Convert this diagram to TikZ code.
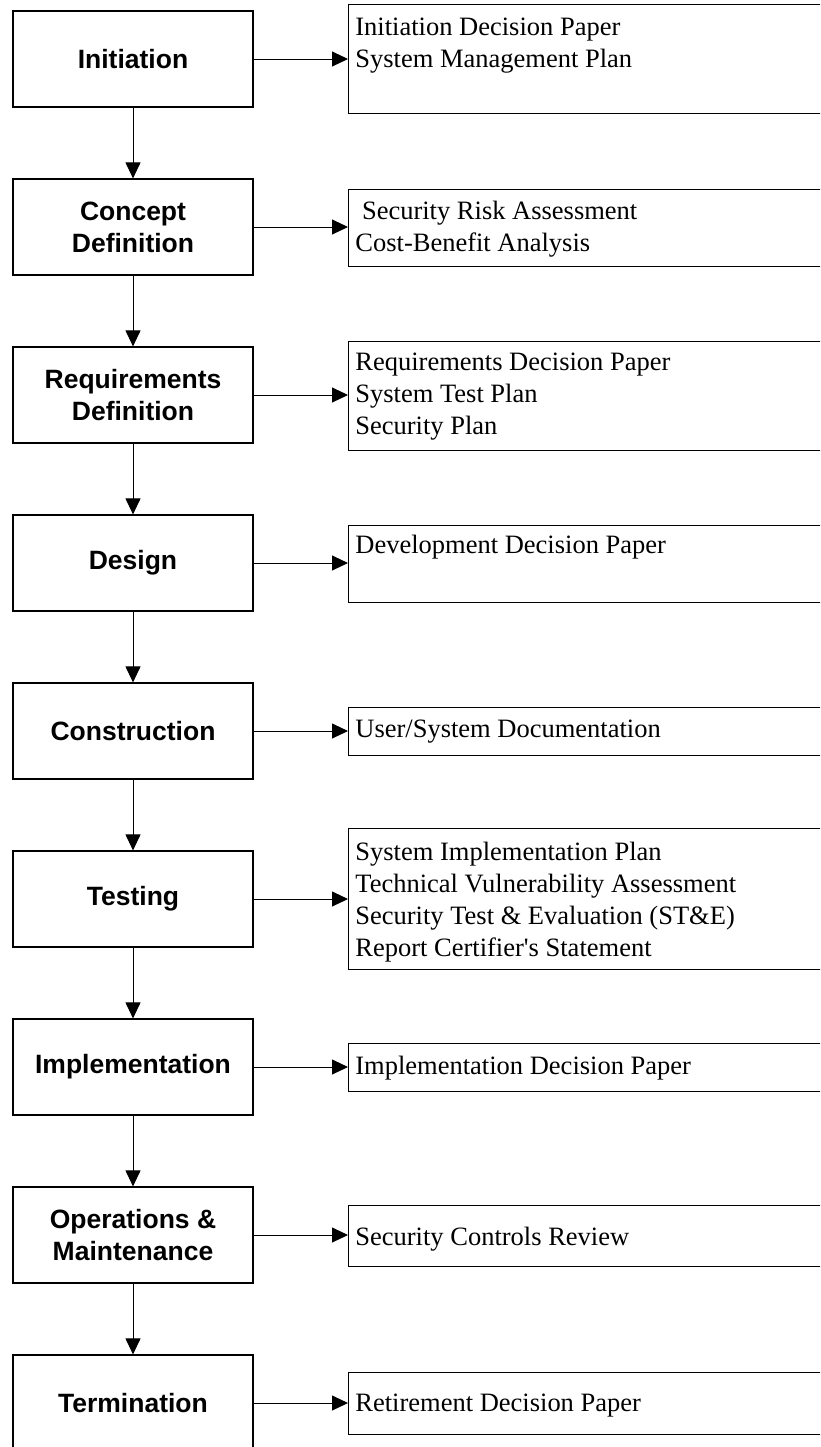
\documentclass[tikz,border=0pt]{standalone}
\usepackage{fontspec}
\setmainfont{Liberation Serif}
\setsansfont{Liberation Sans}
\usetikzlibrary{arrows.meta}

\tikzset{
  phase/.style={draw, line width=0.6pt, minimum width=120pt, minimum height=48pt,
    inner sep=0pt, align=center, font=\sffamily\bfseries\fontsize{13.25}{16}\selectfont},
  doc/.style={draw, line width=0.6pt, anchor=north west, minimum width=300pt, inner sep=0pt},
  doctext/.style={anchor=north west, align=left, inner sep=0pt,
    font=\rmfamily\fontsize{13.25}{16}\selectfont},
  flow/.style={line width=0.5pt, -{Triangle[length=8pt,width=7.5pt]}}
}

\begin{document}
\begin{tikzpicture}[x=0.5pt, y=-0.5pt]

% Page (pixels of the reference)
\clip (0,0) rectangle (820,1447);

% Phases
\foreach \phasename [count=\s] in {Initiation, Concept\\Definition,
    Requirements\\Definition, Design, Construction, Testing, Implementation,
    Operations \&\\Maintenance, Termination} {
  \node (phase\s) at (133, {59 + 168*(\s - 1)}) [phase] {\phasename};
}

% Deliverables
\node (doc1) at (348, 4) [doc, minimum height=54.5pt] {};
\node (doc1text) at (355, 18) [doctext] {Initiation Decision Paper\\System Management Plan};

\node (doc2) at (348, 189) [doc, minimum height=38.5pt] {};
\node (doc2text) at (355, 201) [doctext] {\hspace*{0.25em}Security Risk Assessment\\Cost-Benefit Analysis};

\node (doc3) at (348, 341) [doc, minimum height=54.5pt] {};
\node (doc3text) at (355, 353) [doctext] {Requirements Decision Paper\\System Test Plan\\Security Plan};

\node (doc4) at (348, 525) [doc, minimum height=38.5pt] {};
\node (doc4text) at (355, 535) [doctext] {Development Decision Paper};

\node (doc5) at (348, 707) [doc, minimum height=24pt] {};
\node (doc5text) at (355, 720) [doctext] {User/System Documentation};

\node (doc6) at (348, 828) [doc, minimum height=70.5pt] {};
\node (doc6text) at (355, 842) [doctext] {System Implementation Plan\\Technical Vulnerability Assessment\\Security Test \& Evaluation (ST\&E)\\Report Certifier\textquotesingle s Statement};

\node (doc7) at (348, 1043) [doc, minimum height=24pt] {};
\node (doc7text) at (355, 1056) [doctext] {Implementation Decision Paper};

\node (doc8) at (348, 1205) [doc, minimum height=30.5pt] {};
\node (doc8text) at (355, 1227) [doctext] {Security Controls Review};

\node (doc9) at (348, 1372) [doc, minimum height=31pt] {};
\node (doc9text) at (355, 1394) [doctext] {Retirement Decision Paper};

% Phase to deliverable
\foreach \s in {1, ..., 9} {
  \draw [flow] (phase\s.east) -- (phase\s.east -| doc\s.west);
}

% Phase to next phase
\foreach \s in {2, ..., 9} {
  \pgfmathtruncatemacro{\prev}{\s - 1}
  \draw [flow] (phase\prev.south) -- (phase\s.north);
}

\end{tikzpicture}
\end{document}
